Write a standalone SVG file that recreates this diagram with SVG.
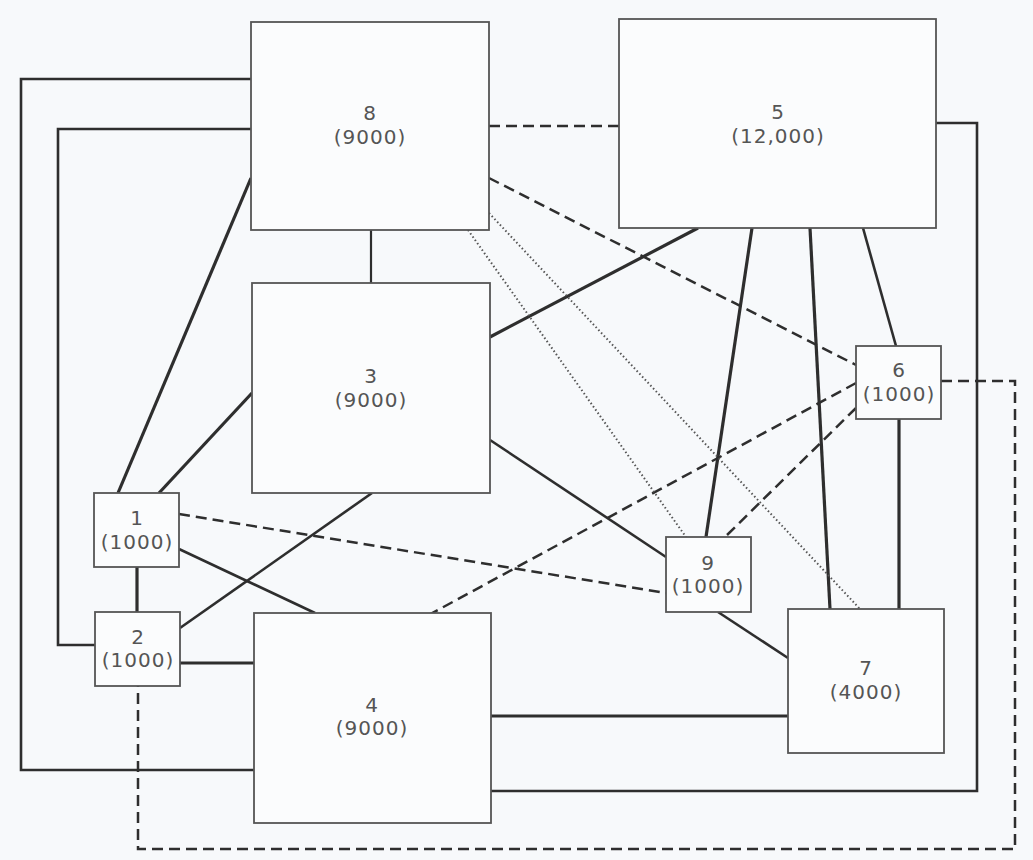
<svg xmlns="http://www.w3.org/2000/svg" width="1033" height="860" viewBox="0 0 1033 860">
<style>
.bg{fill:#f7f9fb}
.node rect{fill:#fbfcfd;stroke:#555;stroke-width:1.8}
.node text{font-family:"DejaVu Sans",Verdana,sans-serif;font-size:20px;fill:#555;text-anchor:middle;letter-spacing:1px}
.c{fill:none;stroke:#2e2e2e}
.thick{stroke-width:3.2}
.med{stroke-width:2.6}
.thin{stroke-width:2.2}
.dash{stroke-width:2.5;stroke-dasharray:11 6}
.dot{stroke-width:2;stroke-dasharray:1.5 2.5;stroke:#555}
</style>
<rect class="bg" x="0" y="0" width="1033" height="860"/>
<g id="connectors">
<path class="c med" d="M251,79 H21 V770 H254"/>
<path class="c med" d="M251,129 H58 V645 H95"/>
<path class="c thick" d="M251,178 L118,493"/>
<path class="c thin" d="M371,230 V283"/>
<path class="c thick" d="M252,393 L159,493"/>
<path class="c thick" d="M137,567 V612"/>
<path class="c med" d="M179,549 L315,613"/>
<path class="c med" d="M180,628 L372,493"/>
<path class="c thick" d="M180,663 H254"/>
<path class="c thick" d="M491,716 H788"/>
<path class="c med" d="M491,791 H977 V123 H936"/>
<path class="c thick" d="M490,337 L698,228"/>
<path class="c med" d="M490,440 L666,557"/>
<path class="c med" d="M718,612 L788,658"/>
<path class="c thick" d="M752,228 L706,537"/>
<path class="c thick" d="M810,228 L830,609"/>
<path class="c med" d="M863,228 L896,346"/>
<path class="c thick" d="M899,419 V609"/>
<path class="c dash" d="M489,126 H619"/>
<path class="c dash" d="M489,178 L856,365"/>
<path class="c dash" d="M941,381 H1015 V849 H138 V686"/>
<path class="c dash" d="M856,383 L425,617"/>
<path class="c dash" d="M856,408 L725,537"/>
<path class="c dash" d="M179,514 L666,593"/>
<path class="c dot" d="M489,213 L860,609"/>
<path class="c dot" d="M468,230 L686,537"/>
</g>
<g id="node8" class="node"><rect x="251" y="22" width="238" height="208"/><text x="370" y="120">8</text><text x="370" y="144">(9000)</text></g>
<g id="node5" class="node"><rect x="619" y="19" width="317" height="209"/><text x="778" y="119">5</text><text x="778" y="143">(12,000)</text></g>
<g id="node3" class="node"><rect x="252" y="283" width="238" height="210"/><text x="371" y="383">3</text><text x="371" y="407">(9000)</text></g>
<g id="node6" class="node"><rect x="856" y="346" width="85" height="73"/><text x="899" y="377">6</text><text x="899" y="401">(1000)</text></g>
<g id="node1" class="node"><rect x="94" y="493" width="85" height="74"/><text x="137" y="525">1</text><text x="137" y="549">(1000)</text></g>
<g id="node2" class="node"><rect x="95" y="612" width="85" height="74"/><text x="138" y="644">2</text><text x="138" y="667">(1000)</text></g>
<g id="node9" class="node"><rect x="666" y="537" width="85" height="75"/><text x="708" y="570">9</text><text x="708" y="593">(1000)</text></g>
<g id="node4" class="node"><rect x="254" y="613" width="237" height="210"/><text x="372" y="712">4</text><text x="372" y="735">(9000)</text></g>
<g id="node7" class="node"><rect x="788" y="609" width="156" height="144"/><text x="866" y="675">7</text><text x="866" y="699">(4000)</text></g>
</svg>
